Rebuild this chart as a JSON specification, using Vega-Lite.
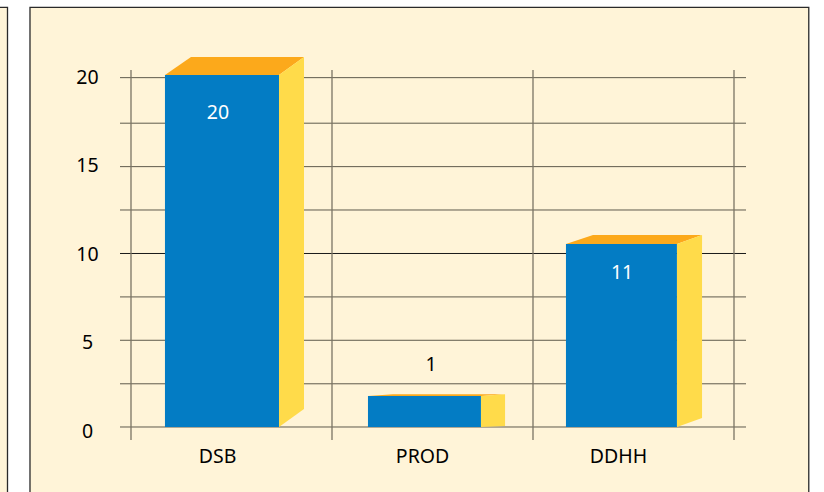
{
"$schema":"https://vega.github.io/schema/vega-lite/v6.json",
"width":626,"height":370,"autosize":{"type":"none"},
"padding":{"left":120,"top":70,"right":78,"bottom":52},
"background":"#ffffff",
"config":{"view":{"stroke":null},"font":"Noto Sans"},
"datasets":{
"panels":[{"name":"left","x0":-1.5,"x1":-0.6144,"y0":-5,"y1":24.05},{"name":"main","x0":-0.5025,"x1":3.372,"y0":-5,"y1":24.05}],
"hgrid":[{"v":0,"a":-0.0547,"b":3.0597},{"v":2.476,"a":-0.0547,"b":3.0597},{"v":4.97,"a":-0.0547,"b":3.0597},{"v":7.455,"a":-0.0547,"b":3.0597},{"v":9.943,"a":-0.0547,"b":3.0597},{"v":12.436,"a":-0.0547,"b":3.0597},{"v":14.92,"a":-0.0547,"b":3.0597},{"v":17.41,"a":-0.0547,"b":3.0597},{"v":20.02,"a":-0.0547,"b":3.0597}],
"vgrid":[{"v":0,"a":-0.745,"b":20.458},{"v":1,"a":-0.745,"b":20.458},{"v":2,"a":-0.745,"b":20.458},{"v":3,"a":-0.745,"b":20.458}],
"bars":[
{"cat":"DSB","x0":0.169,"x1":0.7363,"base":0,"value":20.17,"label":"20","lx":0.433,"ly":18.0},
{"cat":"PROD","x0":1.179,"x1":1.741,"base":0,"value":1.78,"label":"1","lx":1.4925,"ly":3.56},
{"cat":"DDHH","x0":2.164,"x1":2.716,"base":0,"value":10.49,"label":"11","lx":2.443,"ly":8.83}],
"side":[
{"cat":"DSB","x":0.7363,"y":20.17,"y2":0},{"cat":"DSB","x":0.8607,"y":21.2,"y2":1.03},
{"cat":"PROD","x":1.741,"y":1.78,"y2":0},{"cat":"PROD","x":1.861,"y":1.88,"y2":0.06},
{"cat":"DDHH","x":2.716,"y":10.49,"y2":0},{"cat":"DDHH","x":2.841,"y":11.0,"y2":0.52}],
"top":[
{"cat":"DSB","x":0.169,"y":20.17,"y2":20.17},{"cat":"DSB","x":0.2985,"y":21.2,"y2":20.17},{"cat":"DSB","x":0.7363,"y":21.2,"y2":20.17},{"cat":"DSB","x":0.8607,"y":21.2,"y2":21.2},
{"cat":"PROD","x":1.179,"y":1.78,"y2":1.78},{"cat":"PROD","x":1.3035,"y":1.88,"y2":1.78},{"cat":"PROD","x":1.741,"y":1.88,"y2":1.78},{"cat":"PROD","x":1.861,"y":1.88,"y2":1.88},
{"cat":"DDHH","x":2.164,"y":10.49,"y2":10.49},{"cat":"DDHH","x":2.2985,"y":11.0,"y2":10.49},{"cat":"DDHH","x":2.716,"y":11.0,"y2":10.49},{"cat":"DDHH","x":2.841,"y":11.0,"y2":11.0}]
},
"layer":[
{"data":{"name":"panels"},"mark":{"type":"rect","fill":"#FFF4D8","stroke":"#2a2a2a","strokeWidth":1.3},
 "encoding":{
  "x":{"field":"x0","type":"quantitative","scale":{"domain":[-0.0547,3.0597],"nice":false,"zero":false},
   "axis":{"values":[0.428,1.448,2.423],"labelExpr":"datum.value<1?'DSB':datum.value<2?'PROD':'DDHH'","title":null,"grid":false,"domain":false,"ticks":false,"labelPadding":7,"labelFontSize":19.5,"labelColor":"#000000","labelFont":"Noto Sans","labelAngle":0,"labelFlush":false,"labelOverlap":false,"zindex":1}},
  "x2":{"field":"x1"},
  "y":{"field":"y0","type":"quantitative","scale":{"domain":[-0.745,20.458],"nice":false,"zero":false},
   "axis":{"values":[-0.23,4.87,9.91,14.96,20],"labelExpr":"format(round(datum.value/5)*5,'d')","title":null,"grid":false,"domain":false,"ticks":false,"labelPadding":33,"labelAlign":"center","labelFontSize":19.5,"labelColor":"#000000","labelFont":"Noto Sans","labelFlush":false,"labelOverlap":false,"zindex":1}},
  "y2":{"field":"y1"}}},
{"data":{"name":"hgrid"},"mark":{"type":"rule","strokeWidth":1},
 "encoding":{"y":{"field":"v","type":"quantitative"},"x":{"field":"a","type":"quantitative"},"x2":{"field":"b"},
  "color":{"condition":{"test":"datum.v===9.943","value":"#1a1a1a"},"value":"#5f5a4c"}}},
{"data":{"name":"vgrid"},"mark":{"type":"rule","strokeWidth":1.3,"color":"#7a7464"},
 "encoding":{"x":{"field":"v","type":"quantitative"},"y":{"field":"a","type":"quantitative"},"y2":{"field":"b"}}},
{"data":{"name":"top"},"mark":{"type":"area","color":"#FCA91B","interpolate":"linear"},
 "encoding":{"detail":{"field":"cat","type":"nominal"},"x":{"field":"x","type":"quantitative"},"y":{"field":"y","type":"quantitative"},"y2":{"field":"y2"}}},
{"data":{"name":"side"},"mark":{"type":"area","color":"#FFDB4A","interpolate":"linear"},
 "encoding":{"detail":{"field":"cat","type":"nominal"},"x":{"field":"x","type":"quantitative"},"y":{"field":"y","type":"quantitative"},"y2":{"field":"y2"}}},
{"data":{"name":"bars"},"mark":{"type":"rect","color":"#037CC4"},
 "encoding":{"x":{"field":"x0","type":"quantitative"},"x2":{"field":"x1"},"y":{"field":"base","type":"quantitative"},"y2":{"field":"value"}}},
{"data":{"name":"bars"},"mark":{"type":"text","fontSize":19.5,"font":"Noto Sans","align":"center","baseline":"middle"},
 "encoding":{"x":{"field":"lx","type":"quantitative"},"y":{"field":"ly","type":"quantitative"},"text":{"field":"label","type":"nominal"},
  "color":{"condition":{"test":"datum.cat==='PROD'","value":"#000000"},"value":"#ffffff"}}}
]}
